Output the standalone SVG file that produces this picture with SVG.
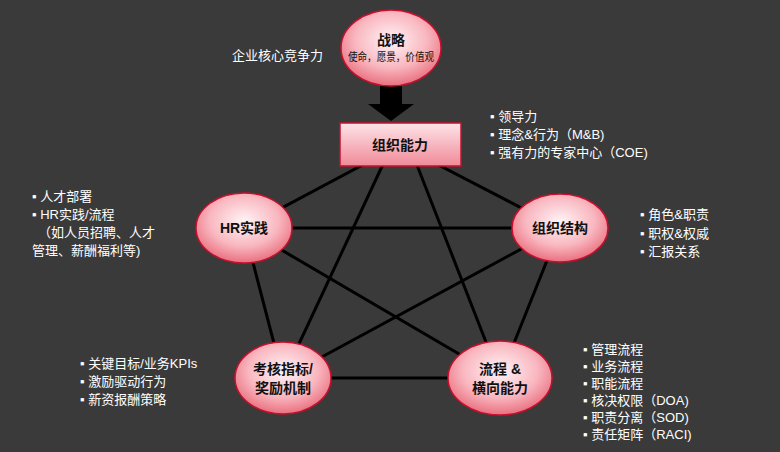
<svg xmlns="http://www.w3.org/2000/svg" width="780" height="452" viewBox="0 0 780 452">
<defs>
<radialGradient id="g" cx="50%" cy="40%" r="60%"><stop offset="0" stop-color="#fff4f6"/><stop offset="0.6" stop-color="#f9b7c0"/><stop offset="1" stop-color="#e9707f"/></radialGradient>
<linearGradient id="b" x1="0" y1="0" x2="0" y2="1"><stop offset="0" stop-color="#fde4e8"/><stop offset="1" stop-color="#f08a98"/></linearGradient>
</defs>
<style>
.n{fill:url(#g);stroke:#c8102e;stroke-width:1.5}
.t{font-family:"Liberation Sans","Noto Sans CJK SC",sans-serif;font-weight:bold;font-size:14px;fill:#111;text-anchor:middle}
.s{font-family:"Liberation Sans","Noto Sans CJK SC",sans-serif;font-size:11px;fill:#111;text-anchor:middle}
.w{font-family:"Liberation Sans","Noto Sans CJK SC",sans-serif;font-size:13px;fill:#fff}
.c line{stroke:#000;stroke-width:3}
</style>
<rect width="780" height="452" fill="#3a3a3a"/>
<g class="c" id="connectors">
<line x1="400" y1="145" x2="244" y2="228"/>
<line x1="400" y1="145" x2="560" y2="228"/>
<line x1="385" y1="160" x2="283" y2="378"/>
<line x1="415" y1="160" x2="500" y2="378"/>
<line x1="244" y1="228" x2="560" y2="228"/>
<line x1="244" y1="228" x2="500" y2="378"/>
<line x1="244" y1="228" x2="283" y2="378"/>
<line x1="560" y1="228" x2="283" y2="378"/>
<line x1="560" y1="228" x2="500" y2="378"/>
<line x1="283" y1="378" x2="500" y2="378"/>
<polygon points="380,86 402,86 402,104 414,104 391,121 368,104 380,104" fill="#000" stroke="none"/>
</g>
<g id="strategy"><ellipse class="n" cx="391" cy="48" rx="50" ry="38"/><text class="t" x="391" y="45">战略</text><text class="s" x="391" y="61" textLength="86" lengthAdjust="spacingAndGlyphs">使命，愿景，价值观</text></g>
<text class="w" x="232" y="60">企业核心竞争力</text>
<g id="org"><rect x="340" y="123" width="121" height="43" fill="url(#b)" stroke="#c8102e" stroke-width="1.5"/><text class="t" x="400" y="150">组织能力</text></g>
<g class="w"><text x="490" y="121">▪ 领导力</text><text x="490" y="139">▪ 理念&amp;行为（M&amp;B)</text><text x="490" y="157">▪ 强有力的专家中心（COE)</text></g>
<g id="hr"><ellipse class="n" cx="244" cy="228" rx="48" ry="35"/><text class="t" x="244" y="233">HR实践</text></g>
<g class="w"><text x="32" y="201">▪ 人才部署</text><text x="32" y="219">▪ HR实践/流程</text><text x="38" y="237">（如人员招聘、人才</text><text x="32" y="255">管理、薪酬福利等)</text></g>
<g id="structure"><ellipse class="n" cx="560" cy="228" rx="48" ry="34"/><text class="t" x="560" y="233">组织结构</text></g>
<g class="w"><text x="640" y="219">▪ 角色&amp;职责</text><text x="640" y="238">▪ 职权&amp;权威</text><text x="640" y="256">▪ 汇报关系</text></g>
<g id="kpi"><ellipse class="n" cx="283" cy="378" rx="48" ry="36"/><text class="t" x="283" y="374">考核指标/</text><text class="t" x="283" y="393">奖励机制</text></g>
<g class="w"><text x="80" y="368">▪ 关键目标/业务KPIs</text><text x="80" y="386">▪ 激励驱动行为</text><text x="80" y="404">▪ 新资报酬策略</text></g>
<g id="process"><ellipse class="n" cx="500" cy="378" rx="52" ry="37"/><text class="t" x="500" y="374">流程 &amp;</text><text class="t" x="500" y="393">横向能力</text></g>
<g class="w"><text x="583" y="354">▪ 管理流程</text><text x="583" y="371">▪ 业务流程</text><text x="583" y="388">▪ 职能流程</text><text x="583" y="405">▪ 核决权限（DOA)</text><text x="583" y="422">▪ 职责分离（SOD)</text><text x="583" y="439">▪ 责任矩阵（RACI)</text></g>
</svg>
